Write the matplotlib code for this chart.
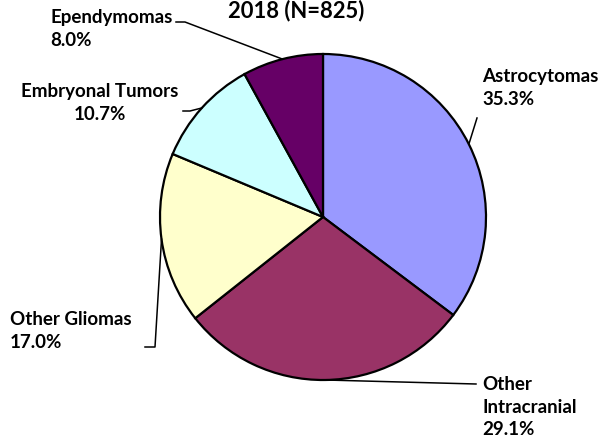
#!/usr/bin/env python3
"""Pie chart of tumour histology, 2018 (N=825)."""

import numpy as np
import matplotlib

matplotlib.use("Agg")
import matplotlib.pyplot as plt
from matplotlib.lines import Line2D

labels = ["Astrocytomas", "Other\nIntracranial", "Other Gliomas", "Embryonal Tumors", "Ependymomas"]
shares = [35.3, 29.1, 17.0, 10.7, 8.0]
colors = ["#9999FF", "#993366", "#FFFFCC", "#CCFFFF", "#660066"]
title = "2018 (N=825)"

W, H = 603, 444
plt.rcParams["font.family"] = ["Lato", "DejaVu Sans"]

fig = plt.figure(figsize=(W / 100, H / 100), dpi=100)
fig.patch.set_facecolor("white")

# pie centre / radius in pixels (from the top-left corner)
cx, cy, r = 323, 217, 163
pad = 1.02
ax = fig.add_axes([(cx - r * pad) / W, (H - cy - r * pad) / H, 2 * pad * r / W, 2 * pad * r / H])
wedges, _ = ax.pie(
    shares,
    colors=colors,
    startangle=90,
    counterclock=False,
    radius=1.0,
    wedgeprops=dict(edgecolor="black", linewidth=1.6),
)
ax.set_xlim(-pad, pad)
ax.set_ylim(-pad, pad)
ax.set_aspect("equal")
ax.axis("off")


def px(x, y):
    return x / W, 1 - y / H


def anchor(w):
    ang = np.deg2rad((w.theta1 + w.theta2) / 2)
    return cx + r * np.cos(ang), cy - r * np.sin(ang)


# label block: (x, y centre, ha, leader path after the anchor)
layout = [
    (482, 88, "left", [(477, 118)]),
    (482, 407, "left", [(476, 384)]),
    (10, 331, "left", [(155, 347), (145, 347)]),
    (100, 103, "center", [(190, 111), (183, 111)]),
    (50, 29, "left", [(185, 22), (176, 22)]),
]

for w, lab, val, (tx, ty, ha, path) in zip(wedges, labels, shares, layout):
    fig.text(*px(tx, ty), f"{lab}\n{val:.1f}%", ha=ha, va="center", fontsize=13.5,
             fontweight="bold", linespacing=1.38, multialignment=ha)
    pts = [anchor(w)] + path
    xs = [p[0] / W for p in pts]
    ys = [1 - p[1] / H for p in pts]
    fig.add_artist(Line2D(xs, ys, color="black", linewidth=1.1, transform=fig.transFigure))

fig.text(*px(296, 0), title, ha="center", va="top", fontsize=15.8, fontweight="bold")

fig.savefig("out.png", dpi=100)
